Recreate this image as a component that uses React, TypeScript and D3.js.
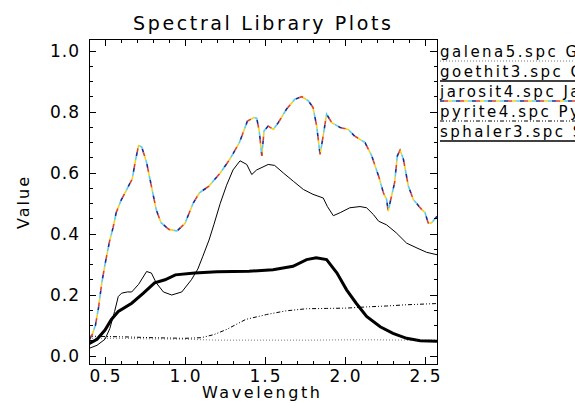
import React from "react";
import * as d3 from "d3";

const W = 575;
const H = 403;

const xMajor = [0.5, 1.0, 1.5, 2.0, 2.5];
const xMajorLabels = ["0.5", "1.0", "1.5", "2.0", "2.5"];
const yMajor = [0.0, 0.2, 0.4, 0.6, 0.8, 1.0];
const yMajorLabels = ["0.0", "0.2", "0.4", "0.6", "0.8", "1.0"];

const jarositeWl = [0.40,0.42,0.44,0.46,0.48,0.50,0.53,0.55,0.57,0.60,0.64,0.67,0.69,0.71,0.73,0.76,0.79,0.82,0.85,0.90,0.95,1.00,1.05,1.09,1.15,1.22,1.28,1.34,1.39,1.43,1.448,1.464,1.48,1.494,1.52,1.552,1.583,1.635,1.687,1.73,1.77,1.80,1.823,1.844,1.86,1.885,1.917,1.97,2.02,2.06,2.125,2.167,2.21,2.24,2.26,2.27,2.286,2.31,2.327,2.344,2.365,2.396,2.427,2.48,2.50,2.52,2.54,2.575];
const jarositeVal = [0.05,0.07,0.10,0.16,0.24,0.30,0.38,0.42,0.47,0.51,0.55,0.58,0.64,0.69,0.685,0.634,0.557,0.48,0.437,0.415,0.41,0.435,0.50,0.535,0.557,0.60,0.645,0.70,0.77,0.782,0.78,0.738,0.656,0.738,0.754,0.743,0.765,0.81,0.842,0.85,0.837,0.815,0.754,0.661,0.71,0.793,0.765,0.749,0.743,0.721,0.70,0.656,0.59,0.535,0.513,0.475,0.513,0.568,0.656,0.675,0.645,0.557,0.513,0.48,0.47,0.436,0.436,0.458];

const goethiteWl = [0.40,0.45,0.50,0.53,0.56,0.583,0.604,0.64,0.667,0.71,0.76,0.79,0.82,0.865,0.917,0.98,1.04,1.08,1.11,1.15,1.18,1.22,1.26,1.30,1.344,1.386,1.417,1.448,1.52,1.56,1.615,1.677,1.74,1.80,1.864,1.89,1.927,1.97,2.03,2.094,2.135,2.177,2.21,2.26,2.32,2.385,2.45,2.51,2.575];
const goethiteVal = [0.025,0.035,0.055,0.09,0.146,0.195,0.206,0.21,0.21,0.235,0.277,0.272,0.24,0.21,0.2,0.21,0.25,0.285,0.325,0.38,0.43,0.50,0.56,0.61,0.64,0.628,0.595,0.61,0.628,0.625,0.60,0.573,0.546,0.53,0.518,0.49,0.46,0.47,0.486,0.49,0.486,0.464,0.442,0.43,0.404,0.37,0.354,0.34,0.332];

const sphaleriteWl = [0.40,0.45,0.50,0.54,0.583,0.667,0.74,0.81,0.875,0.94,1.06,1.2,1.4,1.55,1.675,1.76,1.82,1.885,1.95,2.01,2.07,2.135,2.22,2.30,2.385,2.47,2.575];
const sphaleriteVal = [0.04,0.055,0.085,0.12,0.146,0.173,0.206,0.24,0.25,0.266,0.272,0.276,0.278,0.283,0.294,0.316,0.322,0.316,0.272,0.217,0.173,0.13,0.096,0.074,0.058,0.05,0.048];

const pyriteWl = [0.40,0.6,0.8,1.0,1.1,1.18,1.26,1.38,1.51,1.63,1.76,1.885,2.01,2.135,2.26,2.385,2.575];
const pyriteVal = [0.065,0.063,0.06,0.058,0.06,0.07,0.087,0.12,0.136,0.148,0.155,0.156,0.157,0.161,0.164,0.168,0.172];

const galenaWl = [0.40,0.6,0.8,1.0,1.2,1.5,1.8,2.0,2.2,2.4,2.575];
const galenaVal = [0.058,0.058,0.056,0.055,0.052,0.052,0.052,0.053,0.053,0.052,0.052];

const legendNames = ["galena5.spc Galena", "goethit3.spc Goethite", "jarosit4.spc Jarosite", "pyrite4.spc Pyrite", "sphaler3.spc Sphalerite"];
const jarositeColors = ["#1c2a8c", "#e0402a", "#f4d21c", "#58cdf0"];

const FONT = "'DejaVu Sans', sans-serif";

export default function App() {
  const left = 89, right = 437, top = 39, bottom = 364;
  const x = d3.scaleLinear().domain([0.4, 2.575]).range([89, 437]);
  const y = d3.scaleLinear().domain([0, 1]).range([356, 51]);

  const mk = (wl: number[], v: number[]) =>
    d3.line<number>().x((_, i) => x(wl[i])).y((_, i) => y(v[i]))(wl) || "";

  const pJar = mk(jarositeWl, jarositeVal);
  const pGoe = mk(goethiteWl, goethiteVal);
  const pSph = mk(sphaleriteWl, sphaleriteVal);
  const pPyr = mk(pyriteWl, pyriteVal);
  const pGal = mk(galenaWl, galenaVal);

  const xMinor = d3.range(4, 26).map((d) => d / 10);
  const yMinor = d3.range(0, 21).map((d) => d / 20);

  const dashLen = 4;
  const legendY = [61, 81, 101, 121, 141];

  return (
    <svg width={W} height={H} style={{ position: "absolute", left: 0, top: 0, background: "#fff" }}>
      <defs>
        <clipPath id="plotclip">
          <rect x={left} y={top} width={right - left} height={bottom - top} />
        </clipPath>
      </defs>
      <rect x={0} y={0} width={W} height={H} fill="#fff" />
      <text x={262} y={30} textAnchor="middle" fontFamily={FONT} fontSize={19} textLength={258} lengthAdjust="spacing" fill="#000">Spectral Library Plots</text>

      <g clipPath="url(#plotclip)" fill="none">
        <path d={pGal} stroke="#777" strokeWidth={1} strokeDasharray="1 2" />
        <path d={pPyr} stroke="#000" strokeWidth={1} strokeDasharray="4 2 1 2 1 2" />
        <path d={pGoe} stroke="#000" strokeWidth={1} />
        <path d={pSph} stroke="#000" strokeWidth={3} />
        {jarositeColors.map((c, i) => (
          <path key={i} d={pJar} stroke={c} strokeWidth={1.6}
            strokeDasharray={`${dashLen} ${dashLen * (jarositeColors.length - 1)}`}
            strokeDashoffset={-i * dashLen} />
        ))}
      </g>

      <g stroke="#000" strokeWidth={1} shapeRendering="crispEdges">
        <rect x={left} y={top} width={right - left} height={bottom - top} fill="none" />
        {xMinor.map((t) => {
          const major = xMajor.some((m) => Math.abs(m - t) < 1e-6);
          const L = major ? 7 : 3.5;
          return (
            <g key={"x" + t}>
              <line x1={x(t)} x2={x(t)} y1={bottom} y2={bottom - L} />
              <line x1={x(t)} x2={x(t)} y1={top} y2={top + L} />
            </g>
          );
        })}
        {yMinor.map((t) => {
          const major = yMajor.some((m) => Math.abs(m - t) < 1e-6);
          const L = major ? 7 : 3.5;
          return (
            <g key={"y" + t}>
              <line x1={left} x2={left + L} y1={y(t)} y2={y(t)} />
              <line x1={right} x2={right - L} y1={y(t)} y2={y(t)} />
            </g>
          );
        })}
      </g>

      <g fontFamily={FONT} fontSize={17} fill="#000">
        {xMajor.map((t, i) => (
          <text key={t} x={x(t)} y={382} textAnchor="middle" textLength={31} lengthAdjust="spacing">{xMajorLabels[i]}</text>
        ))}
        {yMajor.map((t, i) => (
          <text key={t} x={79} y={y(t) + 6} textAnchor="end" textLength={29} lengthAdjust="spacing">{yMajorLabels[i]}</text>
        ))}
      </g>

      <text x={261} y={398} textAnchor="middle" fontFamily={FONT} fontSize={16} textLength={118} lengthAdjust="spacing">Wavelength</text>
      <text transform="translate(29,203) rotate(-90)" textAnchor="middle" fontFamily={FONT} fontSize={16} textLength={52} lengthAdjust="spacing">Value</text>

      <g fontFamily={FONT} fontSize={15} fill="#000" letterSpacing={2.5}>
        {legendNames.map((n, i) => (
          <text key={n} x={440} y={legendY[i] - 4}>{n}</text>
        ))}
      </g>
      <g fill="none">
        <line x1={440} x2={W} y1={legendY[0]} y2={legendY[0]} stroke="#777" strokeDasharray="1 2" />
        <line x1={440} x2={W} y1={legendY[1]} y2={legendY[1]} stroke="#000" strokeWidth={1.3} />
        {jarositeColors.map((c, i) => (
          <line key={i} x1={440} x2={W} y1={legendY[2]} y2={legendY[2]} stroke={c} strokeWidth={1.6}
            strokeDasharray={`${dashLen} ${dashLen * (jarositeColors.length - 1)}`}
            strokeDashoffset={-i * dashLen} />
        ))}
        <line x1={440} x2={W} y1={legendY[3]} y2={legendY[3]} stroke="#000" strokeDasharray="4 2 1 2 1 2" />
        <line x1={440} x2={W} y1={legendY[4]} y2={legendY[4]} stroke="#000" strokeWidth={1.3} />
      </g>
    </svg>
  );
}
